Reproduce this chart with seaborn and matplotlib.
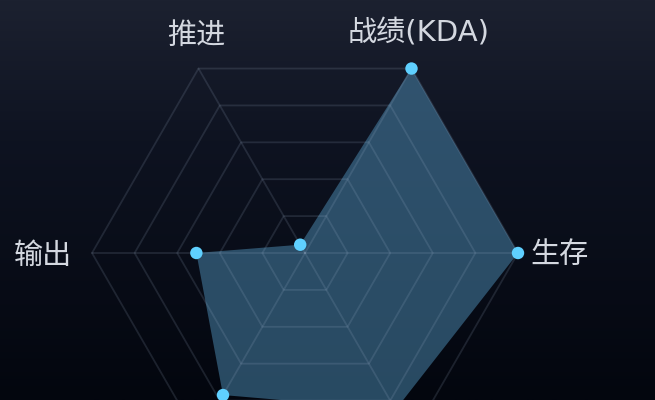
import numpy as np
import matplotlib
matplotlib.use("Agg")
import matplotlib.pyplot as plt
from matplotlib.colors import LinearSegmentedColormap
import seaborn as sns
import pandas as pd

# ---- data ----
categories = ["战绩(KDA)", "生存", "团战", "发育", "输出", "推进"]
angles_deg = [60, 0, -60, -120, 180, 120]
values = [1.0, 1.0, 0.85, 0.77, 0.51, 0.045]
ring_levels = [0.2, 0.4, 0.6, 0.8, 1.0]
# label offsets in pixels (dx, dy) and horizontal alignment; None = off-picture
label_offsets = [(7, 35), (12, -2), None, None, (-20, -3), (-2, 33)]
label_ha = ["center", "left", "center", "center", "right", "center"]

sns.set_theme(style="dark")
plt.rcParams["font.family"] = ["DejaVu Sans", "Noto Sans CJK SC"]

W, H, DPI = 655, 400, 100
fig = plt.figure(figsize=(W / DPI, H / DPI), dpi=DPI)
fig.patch.set_facecolor("#0a0e1a")

# background gradient
bg = fig.add_axes([0, 0, 1, 1], zorder=0)
cmap = LinearSegmentedColormap.from_list(
    "bg", [(0.0, "#1c2130"), (0.35, "#0e1321"), (1.0, "#03060e")])
grad = np.linspace(0, 1, 256).reshape(-1, 1)
bg.imshow(grad, aspect="auto", cmap=cmap, extent=[0, 1, 0, 1], origin="upper")
bg.set_axis_off()

# polar axes placement (center at 305,253 px; radius 213 px)
cx, cy, R = 305 / W, 1 - 253 / H, 213
w, h = 2 * R / W, 2 * R / H
ax = fig.add_axes([cx - w / 2, cy - h / 2, w, h], projection="polar", zorder=1)
ax.set_facecolor("none")
ax.grid(False)
ax.spines["polar"].set_visible(False)
ax.set_xticks([])
ax.set_yticks([])
ax.set_ylim(0, 1)

theta = np.deg2rad(np.array(angles_deg, dtype=float))
theta_closed = np.append(theta, theta[0])

# data polygon
vals_closed = np.append(values, values[0])
ax.fill(theta_closed, vals_closed, color="#4e8eb6", alpha=0.5, lw=0,
        zorder=2, clip_on=False)

# hexagon grid + spokes
grid_kw = dict(color="#a9bcd6", alpha=0.15, lw=1.3, zorder=3, clip_on=False)
for lv in ring_levels:
    ax.plot(theta_closed, [lv] * len(theta_closed), **grid_kw)
for t in theta:
    ax.plot([t, t], [0, 1.0], **grid_kw)

# points
df = pd.DataFrame({"theta": theta, "value": values, "cat": categories})
sns.scatterplot(data=df, x="theta", y="value", ax=ax, color="#5fd0ff",
                s=80, edgecolor="none", zorder=4, clip_on=False, legend=False)
ax.set_xlabel("")
ax.set_ylabel("")
ax.set_ylim(0, 1)

# labels
for t, lab, off, ha in zip(theta, categories, label_offsets, label_ha):
    if off is None:
        continue
    ax.annotate(lab, xy=(t, 1.0), xytext=off, textcoords="offset pixels",
                ha=ha, va="center", fontsize=21, color="#d4d8e0",
                annotation_clip=False)

fig.savefig("out.png", dpi=DPI, facecolor=fig.get_facecolor())
